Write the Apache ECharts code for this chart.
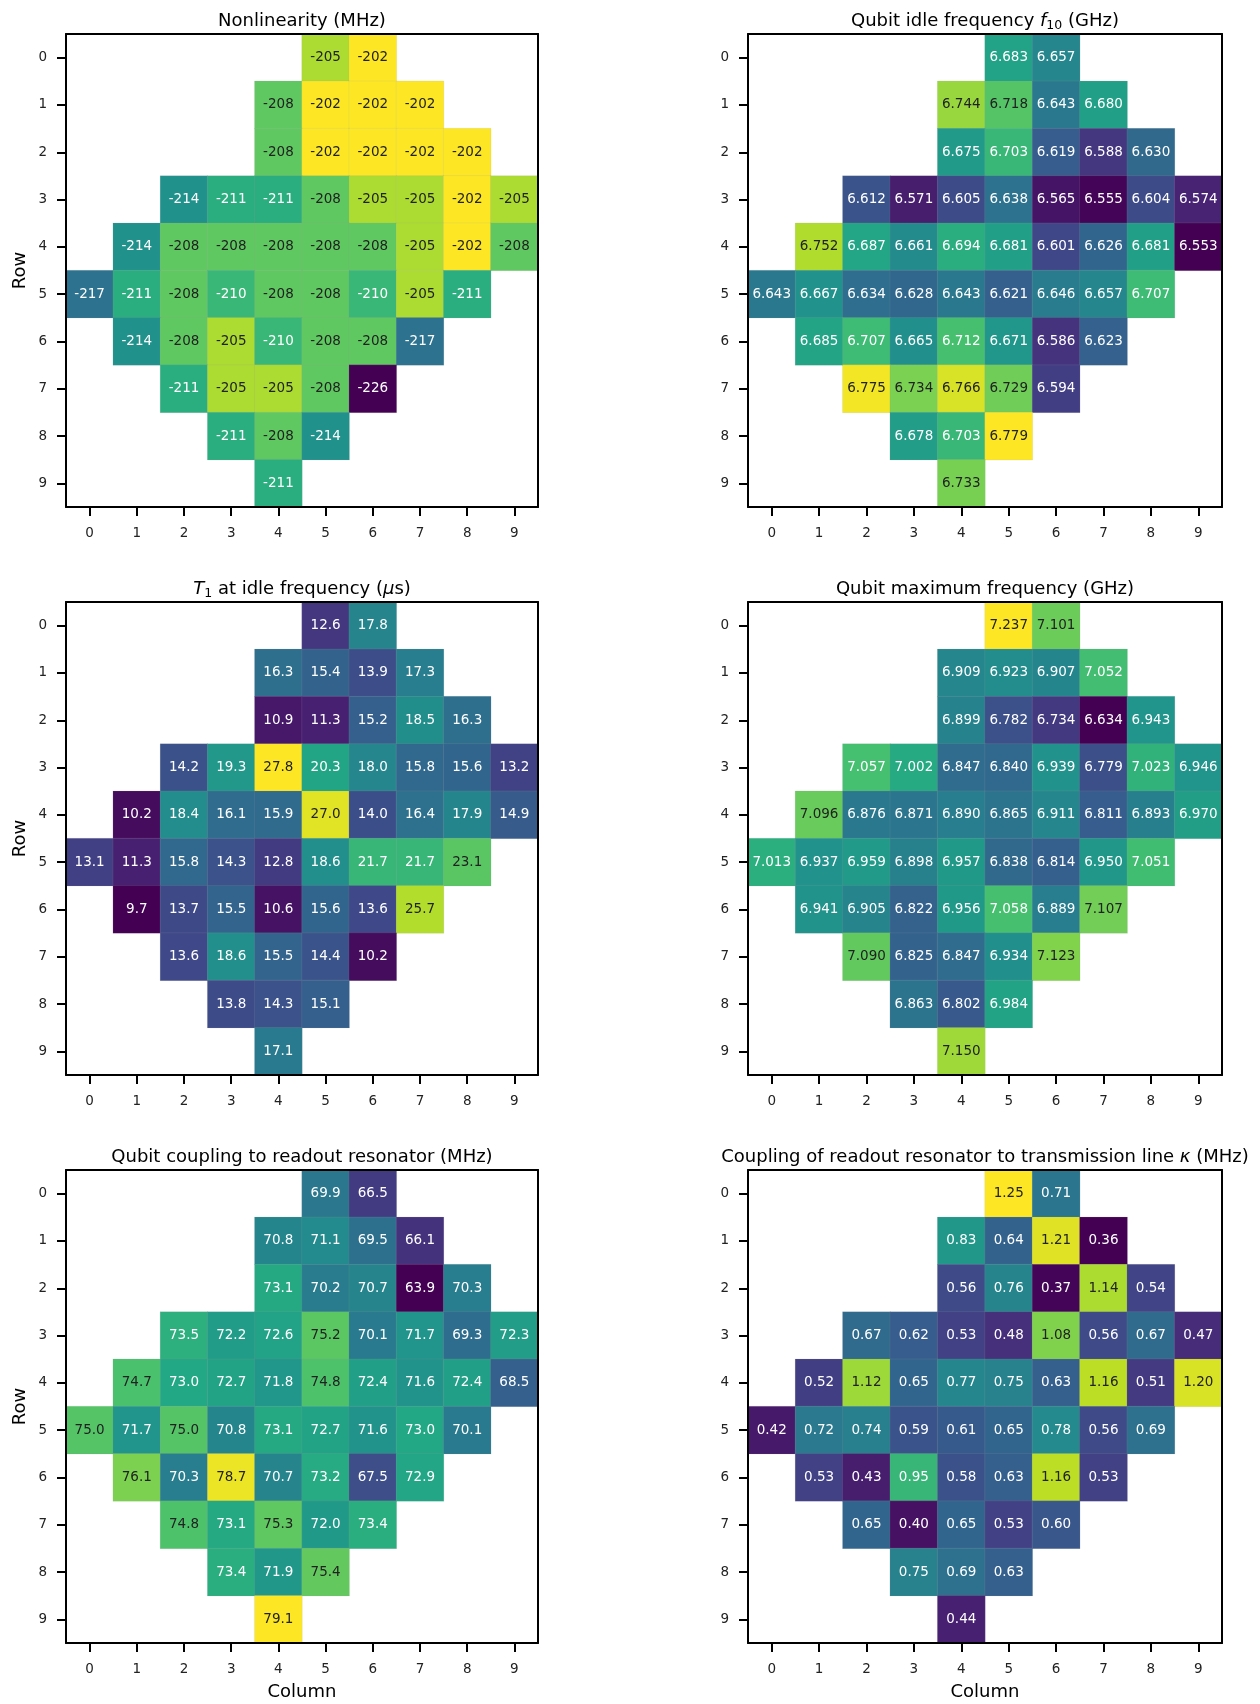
<!DOCTYPE html>
<html>
<head>
<meta charset="utf-8">
<script src="https://cdn.jsdelivr.net/npm/echarts@6/dist/echarts.min.js"></script>
<style>html,body{margin:0;padding:0;background:#fff}#c{width:1260px;height:1704px}</style>
</head>
<body>
<div id="c"></div>
<script>
const columns = ['0','1','2','3','4','5','6','7','8','9'];
const rowLabels = ['0','1','2','3','4','5','6','7','8','9'];
const _ = null;

const nonlinearity = [
  [_,_,_,_,_,-205,-202,_,_,_],
  [_,_,_,_,-208,-202,-202,-202,_,_],
  [_,_,_,_,-208,-202,-202,-202,-202,_],
  [_,_,-214,-211,-211,-208,-205,-205,-202,-205],
  [_,-214,-208,-208,-208,-208,-208,-205,-202,-208],
  [-217,-211,-208,-210,-208,-208,-210,-205,-211,_],
  [_,-214,-208,-205,-210,-208,-208,-217,_,_],
  [_,_,-211,-205,-205,-208,-226,_,_,_],
  [_,_,_,-211,-208,-214,_,_,_,_],
  [_,_,_,_,-211,_,_,_,_,_]
];
const idleFreq = [
  [_,_,_,_,_,6.683,6.657,_,_,_],
  [_,_,_,_,6.744,6.718,6.643,6.680,_,_],
  [_,_,_,_,6.675,6.703,6.619,6.588,6.630,_],
  [_,_,6.612,6.571,6.605,6.638,6.565,6.555,6.604,6.574],
  [_,6.752,6.687,6.661,6.694,6.681,6.601,6.626,6.681,6.553],
  [6.643,6.667,6.634,6.628,6.643,6.621,6.646,6.657,6.707,_],
  [_,6.685,6.707,6.665,6.712,6.671,6.586,6.623,_,_],
  [_,_,6.775,6.734,6.766,6.729,6.594,_,_,_],
  [_,_,_,6.678,6.703,6.779,_,_,_,_],
  [_,_,_,_,6.733,_,_,_,_,_]
];
const t1Idle = [
  [_,_,_,_,_,12.6,17.8,_,_,_],
  [_,_,_,_,16.3,15.4,13.9,17.3,_,_],
  [_,_,_,_,10.9,11.3,15.2,18.5,16.3,_],
  [_,_,14.2,19.3,27.8,20.3,18.0,15.8,15.6,13.2],
  [_,10.2,18.4,16.1,15.9,27.0,14.0,16.4,17.9,14.9],
  [13.1,11.3,15.8,14.3,12.8,18.6,21.7,21.7,23.1,_],
  [_,9.7,13.7,15.5,10.6,15.6,13.6,25.7,_,_],
  [_,_,13.6,18.6,15.5,14.4,10.2,_,_,_],
  [_,_,_,13.8,14.3,15.1,_,_,_,_],
  [_,_,_,_,17.1,_,_,_,_,_]
];
const maxFreq = [
  [_,_,_,_,_,7.237,7.101,_,_,_],
  [_,_,_,_,6.909,6.923,6.907,7.052,_,_],
  [_,_,_,_,6.899,6.782,6.734,6.634,6.943,_],
  [_,_,7.057,7.002,6.847,6.840,6.939,6.779,7.023,6.946],
  [_,7.096,6.876,6.871,6.890,6.865,6.911,6.811,6.893,6.970],
  [7.013,6.937,6.959,6.898,6.957,6.838,6.814,6.950,7.051,_],
  [_,6.941,6.905,6.822,6.956,7.058,6.889,7.107,_,_],
  [_,_,7.090,6.825,6.847,6.934,7.123,_,_,_],
  [_,_,_,6.863,6.802,6.984,_,_,_,_],
  [_,_,_,_,7.150,_,_,_,_,_]
];
const readoutCoupling = [
  [_,_,_,_,_,69.9,66.5,_,_,_],
  [_,_,_,_,70.8,71.1,69.5,66.1,_,_],
  [_,_,_,_,73.1,70.2,70.7,63.9,70.3,_],
  [_,_,73.5,72.2,72.6,75.2,70.1,71.7,69.3,72.3],
  [_,74.7,73.0,72.7,71.8,74.8,72.4,71.6,72.4,68.5],
  [75.0,71.7,75.0,70.8,73.1,72.7,71.6,73.0,70.1,_],
  [_,76.1,70.3,78.7,70.7,73.2,67.5,72.9,_,_],
  [_,_,74.8,73.1,75.3,72.0,73.4,_,_,_],
  [_,_,_,73.4,71.9,75.4,_,_,_,_],
  [_,_,_,_,79.1,_,_,_,_,_]
];
const kappa = [
  [_,_,_,_,_,1.25,0.71,_,_,_],
  [_,_,_,_,0.83,0.64,1.21,0.36,_,_],
  [_,_,_,_,0.56,0.76,0.37,1.14,0.54,_],
  [_,_,0.67,0.62,0.53,0.48,1.08,0.56,0.67,0.47],
  [_,0.52,1.12,0.65,0.77,0.75,0.63,1.16,0.51,1.20],
  [0.42,0.72,0.74,0.59,0.61,0.65,0.78,0.56,0.69,_],
  [_,0.53,0.43,0.95,0.58,0.63,1.16,0.53,_,_],
  [_,_,0.65,0.40,0.65,0.53,0.60,_,_,_],
  [_,_,_,0.75,0.69,0.63,_,_,_,_],
  [_,_,_,_,0.44,_,_,_,_,_]
];

const FONT = 'DejaVu Sans';
const viridis = ['#440154','#482475','#414487','#355f8d','#2a788e','#21918c','#22a884','#44bf70','#7ad151','#bddf26','#fde725'];

const panels = [
  {values: nonlinearity, dec: 0, title: '{n|Nonlinearity (MHz)}'},
  {values: idleFreq, dec: 3, title: '{n|Qubit idle frequency }{i|f}{s|10}{n| (GHz)}'},
  {values: t1Idle, dec: 1, title: '{i|T}{s|1}{n| at idle frequency (}{i|μ}{n|s)}'},
  {values: maxFreq, dec: 3, title: '{n|Qubit maximum frequency (GHz)}'},
  {values: readoutCoupling, dec: 1, title: '{n|Qubit coupling to readout resonator (MHz)}'},
  {values: kappa, dec: 2, title: '{n|Coupling of readout resonator to transmission line }{i|κ}{n| (MHz)}'}
];

const lefts = [66, 748], widths = [472, 474], tops = [34, 602, 1170], H = 473;
const titleRich = {
  n: {fontSize: 18, fontFamily: FONT, fontWeight: 'normal', color: '#000', lineHeight: 22},
  i: {fontSize: 18, fontFamily: FONT, fontWeight: 'normal', color: '#000', fontStyle: 'italic', lineHeight: 22},
  s: {fontSize: 12.5, fontFamily: FONT, fontWeight: 'normal', color: '#000', lineHeight: 14, padding: [9, 0, 0, 0], verticalAlign: 'bottom'}
};

const option = {backgroundColor: '#fff', animation: false, title: [], grid: [], xAxis: [], yAxis: [], visualMap: [], series: []};

panels.forEach((p, i) => {
  const c = i % 2, r = Math.floor(i / 2);
  const left = lefts[c], width = widths[c], top = tops[r];
  let vals = [];
  p.values.forEach(row => row.forEach(v => { if (v !== null) vals.push(v); }));
  const mn = Math.min(...vals), mx = Math.max(...vals);
  const data = [];
  p.values.forEach((row, ri) => row.forEach((v, ci) => {
    if (v === null) return;
    const t = (v - mn) / (mx - mn);
    data.push({value: [ci, ri, v], label: {color: t > 0.707 ? '#222' : '#fff'}});
  }));

  option.title.push({
    text: p.title, left: left + width / 2, top: top - 24, textAlign: 'center', padding: 0,
    textStyle: {fontWeight: 'normal', fontFamily: FONT, fontSize: 18, rich: titleRich}
  });
  option.grid.push({left: left, top: top, width: width, height: H});
  const lineStyle = {color: '#000', width: 2};
  option.xAxis.push({
    gridIndex: i, type: 'category', data: columns, position: 'bottom', z: 10,
    axisLine: {show: true, lineStyle: lineStyle},
    axisTick: {show: true, alignWithLabel: true, length: 9, lineStyle: lineStyle},
    axisLabel: {margin: 19, fontSize: 13.5, color: '#222', fontFamily: FONT},
    splitLine: {show: false},
    name: r === 2 ? 'Column' : '', nameLocation: 'middle', nameGap: 40,
    nameTextStyle: {fontSize: 18, color: '#000', fontFamily: FONT}
  });
  option.xAxis.push({
    gridIndex: i, type: 'category', data: columns, position: 'top', z: 10,
    axisLine: {show: true, lineStyle: lineStyle}, axisTick: {show: false}, axisLabel: {show: false}, splitLine: {show: false}
  });
  option.yAxis.push({
    gridIndex: i, type: 'category', data: rowLabels, inverse: true, position: 'left', z: 10,
    axisLine: {show: true, lineStyle: lineStyle},
    axisTick: {show: true, alignWithLabel: true, length: 9, lineStyle: lineStyle},
    axisLabel: {margin: 19, fontSize: 13.5, color: '#222', fontFamily: FONT},
    splitLine: {show: false},
    name: c === 0 ? 'Row' : '', nameLocation: 'middle', nameGap: 37,
    nameTextStyle: {fontSize: 18, color: '#000', fontFamily: FONT}
  });
  option.yAxis.push({
    gridIndex: i, type: 'category', data: rowLabels, inverse: true, position: 'right', z: 10,
    axisLine: {show: true, lineStyle: lineStyle}, axisTick: {show: false}, axisLabel: {show: false}, splitLine: {show: false}
  });
  option.visualMap.push({
    type: 'continuous', show: false, seriesIndex: i, dimension: 2, min: mn, max: mx,
    inRange: {color: viridis}
  });
  option.series.push({
    type: 'heatmap', xAxisIndex: 2 * i, yAxisIndex: 2 * i, data: data,
    label: {show: true, fontSize: 13.5, fontFamily: FONT, formatter: q => q.value[2].toFixed(p.dec)},
    itemStyle: {borderColor: 'rgba(160,160,160,0.3)', borderWidth: 0.5},
    emphasis: {disabled: true}
  });
});

const chart = echarts.init(document.getElementById('c'), null, {renderer: 'canvas'});
chart.setOption(option);
</script>
</body>
</html>
